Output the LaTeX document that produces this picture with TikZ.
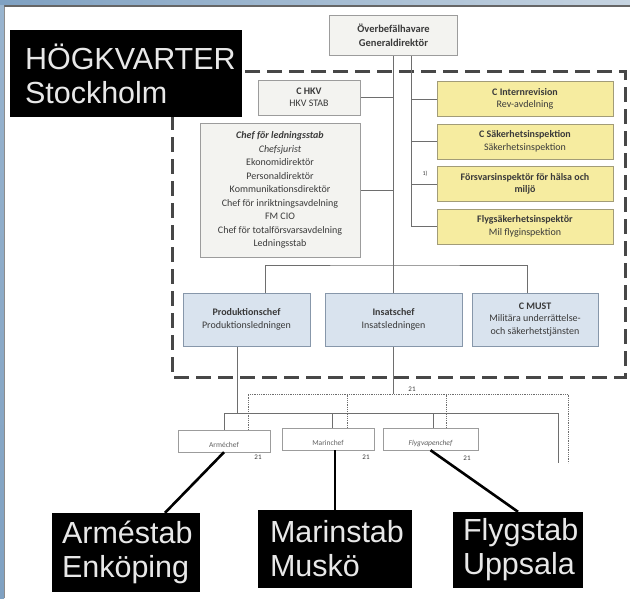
\documentclass[tikz,border=0pt]{standalone}
\usepackage{fontspec}
\setmainfont{Carlito}
\newfontfamily\arialfont{Liberation Sans}
\usetikzlibrary{calc,positioning,backgrounds}
\definecolor{yelbox}{HTML}{F6ECA0}
\definecolor{yelline}{HTML}{A29C78}
\definecolor{blubox}{HTML}{D9E3EE}
\definecolor{bluline}{HTML}{8797AA}
\definecolor{graybox}{HTML}{F3F3F0}
\definecolor{grayline}{HTML}{9C9C9C}
\definecolor{txt}{HTML}{3A3A3A}
\definecolor{lncol}{HTML}{6E6E6E}
\definecolor{stabtxt}{HTML}{E8E8E8}
\definecolor{framelt}{HTML}{C6D4E1}
\definecolor{framedk}{HTML}{7FA1C2}

\begin{document}
\begin{tikzpicture}[x=1pt,y=-1pt]
\tikzstyle{box}=[draw=grayline, fill=graybox, inner sep=0pt, align=center, text=txt, font=\fontsize{10}{12.5}\selectfont]
\tikzstyle{ybox}=[box, fill=yelbox, draw=yelline, minimum width=176pt, minimum height=35pt, node distance=42.5pt]
\tikzstyle{bbox}=[box, fill=blubox, draw=bluline, minimum height=53pt]
\tikzstyle{cbox}=[draw=grayline, fill=white, inner sep=0pt, minimum width=92pt, minimum height=22pt, text height=14pt, text depth=2pt, text=txt!80, font=\fontsize{7.5}{8}\selectfont]
\tikzstyle{stab}=[fill=black, text=stabtxt, inner sep=0pt, align=left, font=\arialfont\fontsize{30.5}{34}\selectfont]
\tikzstyle{conn}=[draw=lncol, line width=0.8pt]
\tikzstyle{dotconn}=[conn, densely dotted]
\tikzstyle{thick}=[draw=black, line width=2.6pt]
\tikzstyle{note}=[inner sep=0pt, text=txt, font=\fontsize{7}{7}\selectfont]

\useasboundingbox (0,0) rectangle (630,598);

% top of the chart
\node[box, minimum width=128pt, minimum height=40pt, font=\bfseries\fontsize{10.5}{14}\selectfont] (ov) at (393.5,35) {Överbefälhavare\\Generaldirektör};
\node[box, minimum width=102pt, minimum height=35pt] (chkv) at (309,97.5) {\textbf{C HKV}\\HKV STAB};
\node[box, minimum width=160pt, minimum height=134pt, font=\fontsize{10}{13.5}\selectfont] (ledstab) at (280,190) {\textbf{\itshape Chef för ledningsstab}\\\textit{Chefsjurist}\\Ekonomidirektör\\Personaldirektör\\Kommunikationsdirektör\\Chef för inriktningsavdelning\\FM CIO\\Chef för totalförsvarsavdelning\\Ledningsstab};

% yellow column
\node[ybox] (rev) at (525,99) {\textbf{C Internrevision}\\Rev-avdelning};
\node[ybox, below of = rev] (sak) {\textbf{C Säkerhetsinspektion}\\Säkerhetsinspektion};
\node[ybox, below of = sak] (halsa) {\textbf{Försvarsinspektör för hälsa och}\\\textbf{miljö}};
\node[ybox, below of = halsa] (flygsak) {\textbf{Flygsäkerhetsinspektör}\\Mil flyginspektion};
\node[note, font=\fontsize{6}{6}\selectfont] (n1) at (425,174) {1)};

% blue row
\node[bbox, minimum width=127pt] (prod) at (246.5,319.5) {\textbf{Produktionschef}\\Produktionsledningen};
\node[bbox, minimum width=137pt] (insats) at (393.5,319.5) {\textbf{Insatschef}\\Insatsledningen};
\node[bbox, minimum width=126pt] (must) at (535,319.5) {\textbf{C MUST}\\Militära underrättelse-\\och säkerhetstjänsten};

% force chiefs
\node[cbox] (armechef) at (224,441) {Arméchef};
\node[cbox] (marinchef) at (328,439) {Marinchef};
\node[cbox, minimum width=95pt, font=\itshape\fontsize{7.5}{8}\selectfont] (flygchef) at (430.5,439) {Flygvapenchef};
\node[note] (n21) at (412,389) {21};
\node[note] (n21a) at (258,457) {21};
\node[note] (n21m) at (366,457) {21};
\node[note] (n21f) at (467,458) {21};

% black labels
\node[stab, minimum width=232pt, minimum height=87pt, inner xsep=15pt, text width=202pt] (hq) at (126,73.5) {HÖGKVARTER\\Stockholm};
\node[stab, minimum width=148pt, minimum height=79pt, inner xsep=10pt, text width=128pt] (armestab) at (126,552.5) {Arméstab\\Enköping};
\node[stab, minimum width=154pt, minimum height=78pt, inner xsep=12pt, text width=130pt] (marinstab) at (335,549) {Marinstab\\Muskö};
\node[stab, minimum width=130pt, minimum height=76pt, inner xsep=10pt, text width=110pt] (flygstab) at (518,550) {Flygstab\\Uppsala};

\coordinate (ybus) at ($(ov.south)+(17.5,0)$);
\coordinate (jn) at (393.5,265);
\coordinate (sol) at (558,413);
\coordinate (solend) at (558,463);
\coordinate (dot) at (568,394);
\coordinate (dotend) at (568,463);

\begin{scope}[on background layer]
\fill[white] (0,0) rectangle (630,598);
\shade[left color=framedk, right color=framelt] (0,0) rectangle (630,5);
\fill[black!60] (0,5) rectangle (630,7);
\shade[top color=framedk!80, bottom color=framedk] (0,5) rectangle (4,598);
\draw[black!45, line width=0.8pt] (4.5,7) -- (4.5,598);
\draw[black!72, line width=3pt, dash pattern=on 15pt off 7pt] (172,71) rectangle (625,377);

\draw[conn] (ov.south) -- (insats.north);
\draw[conn] (ybus) |- (flygsak.west);
\foreach \n in {rev,sak,halsa} \draw[conn] (\n.west) -- (\n.west -| ybus);
\draw[conn] (chkv.east) -- (chkv.east -| ov.south);
\draw[conn] (ledstab.east) -- (ledstab.east -| ov.south);
\draw[conn] ([xshift=18.5pt]prod.north) |- (jn) -| ([xshift=-8pt]must.north);

\draw[conn] ([xshift=-9.5pt]prod.south) -- ([xshift=-9.5pt]prod.south |- sol);
\draw[conn] (armechef.north) |- (sol) -- (solend);
\draw[conn] ([xshift=4pt]marinchef.north) -- ([xshift=4pt]marinchef.north |- sol);
\draw[conn] ([xshift=2.5pt]flygchef.north) -- ([xshift=2.5pt]flygchef.north |- sol);
\draw[conn] (insats.south) -- (insats.south |- dot);
\draw[dotconn] ([xshift=24pt]armechef.north) |- (dot) -- (dotend);
\draw[dotconn] ([xshift=19pt]marinchef.north) -- ([xshift=19pt]marinchef.north |- dot);
\draw[dotconn] ([xshift=15.5pt]flygchef.north) -- ([xshift=15.5pt]flygchef.north |- dot);
\end{scope}

\draw[thick] (armechef.south) -- ([xshift=39pt]armestab.north);
\draw[thick] ([xshift=7pt]marinchef.south) -- (marinstab.north);
\draw[thick] (flygchef.south) -- (flygstab.north);
\end{tikzpicture}
\end{document}
